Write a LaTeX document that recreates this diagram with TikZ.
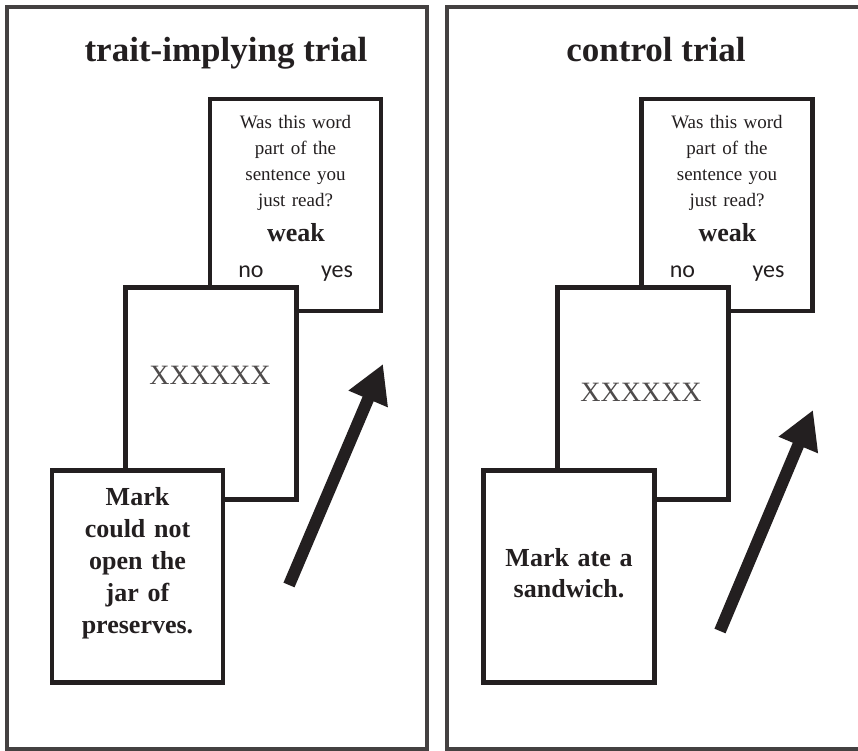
\documentclass[tikz,border=0pt]{standalone}
\usepackage{fontspec}
\setmainfont{Liberation Serif}
\newfontfamily\answerfont{Carlito}
\usetikzlibrary{arrows.meta}
\definecolor{ink}{HTML}{231F20}
\tikzset{
  panel/.style={draw=ink!85, line width=3.5pt},
  card/.style={draw=ink, fill=white, line width=4.5pt, minimum width=171pt, minimum height=212pt, inner sep=0pt},
  cardtext/.style={text=ink, align=center, inner sep=0pt, anchor=base},
  masktext/.style={cardtext, text=ink!80, font=\fontsize{28}{30}\selectfont},
  bigarrow/.style={draw=ink, line width=12pt, -{Triangle[length=38pt,width=40pt]}}
}

\begin{document}
\begin{tikzpicture}[x=1pt,y=-1pt]
\useasboundingbox (0,0) rectangle (858,751);

%draw the two panels, the right one runs off the page
\begin{scope}
\clip (0,0) rectangle (858,751);
\draw[panel] (7,7) rectangle (427,749);
\draw[panel] (447,7) rectangle (880,749);
\end{scope}

%titles
\node[cardtext, font=\bfseries\fontsize{35}{40}\selectfont] (titleL) at (226,62) {trait-implying trial};
\node[cardtext, font=\bfseries\fontsize{35}{40}\selectfont] (titleR) at (656,62) {control trial};

%question card, same in both panels
\foreach \ox/\i in {0/L,431.5/R}
{
\node[card] (quest\i) at (295.5+\ox,205) {};
\node[cardtext, text width=165pt, font=\fontsize{19}{26}\selectfont] (ask\i) at (295.5+\ox,129) {Was this word\\part of the\\sentence you\\just read?};
\node[cardtext, font=\bfseries\fontsize{26}{30}\selectfont] (word\i) at (296+\ox,241) {weak};
\node[cardtext, font=\answerfont\fontsize{24}{28}\selectfont] (no\i) at (251+\ox,277) {no};
\node[cardtext, font=\answerfont\fontsize{24}{28}\selectfont] (yes\i) at (337+\ox,277) {yes};
}

%mask cards
\node[card] (maskL) at (211,393.5) {};
\node[masktext] (xL) at (210,384) {XXXXXX};
\node[card] (maskR) at (643,393.5) {};
\node[masktext] (xR) at (641,401) {XXXXXX};

%sentence cards
\node[card] (sentL) at (137.5,576.5) {};
\node[cardtext, text width=165pt, font=\bfseries\fontsize{26}{32}\selectfont] (readL) at (137.5,505) {Mark\\could not\\open the\\jar of\\preserves.};
\node[card] (sentR) at (569,576.5) {};
\node[cardtext, text width=165pt, font=\bfseries\fontsize{26}{31}\selectfont] (readR) at (569,566) {Mark ate a\\sandwich.};

%arrows
\coordinate (tailL) at (289,585);
\coordinate (tipL) at (383,364);
\coordinate (tailR) at (720,631);
\coordinate (tipR) at (813,410);
\draw[bigarrow] (tailL) -- (tipL);
\draw[bigarrow] (tailR) -- (tipR);
\end{tikzpicture}
\end{document}
